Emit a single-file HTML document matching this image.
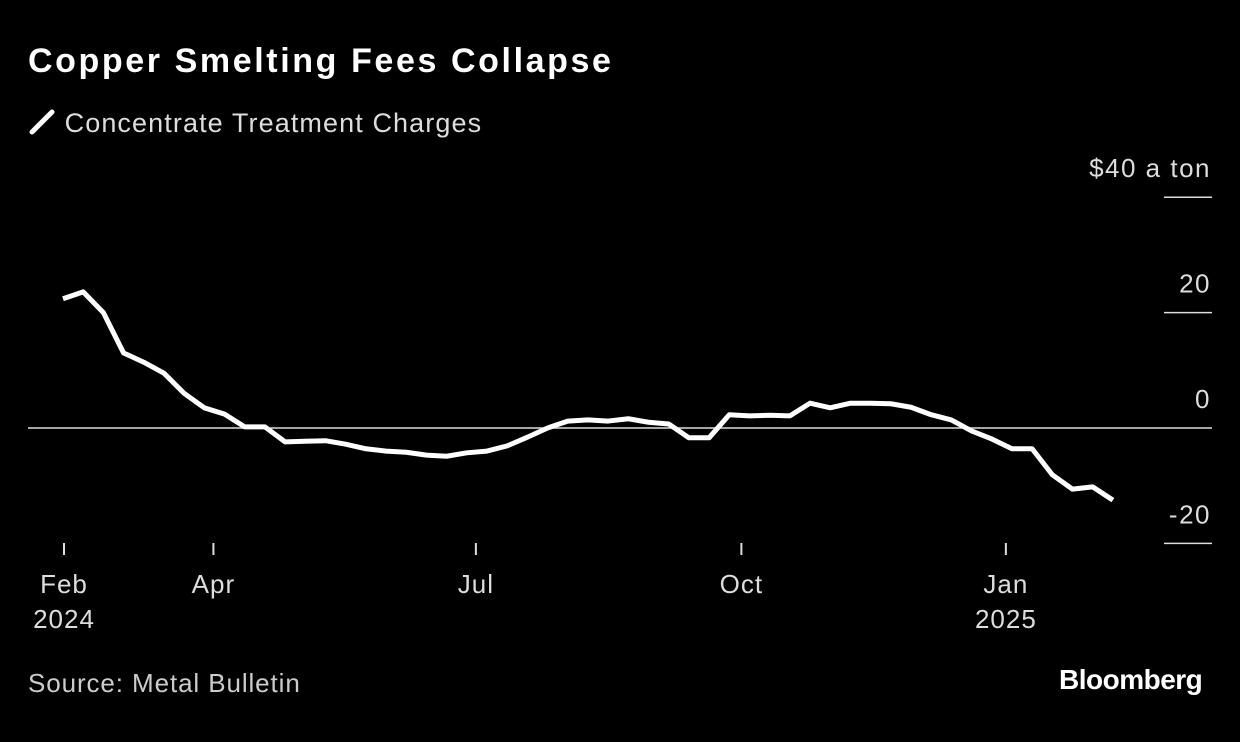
<!DOCTYPE html>
<html><head><meta charset="utf-8">
<style>
html,body{margin:0;padding:0;background:#000;}
body{width:1240px;height:742px;overflow:hidden;position:relative;font-family:"Liberation Sans",sans-serif;color:#fff;}
.t{position:absolute;white-space:nowrap;}
</style></head>
<body>
<div class="t" style="left:28px;top:42px;font-size:34px;font-weight:bold;letter-spacing:2.6px;">Copper Smelting Fees Collapse</div>
<div class="t" style="left:28px;top:108px;font-size:27px;color:#ddd;letter-spacing:1.1px;">
 <svg width="28" height="28" style="vertical-align:-4px"><line x1="4" y1="24" x2="24" y2="4" stroke="#fff" stroke-width="5" stroke-linecap="round"/></svg>
 Concentrate Treatment Charges</div>
<svg id="chart" width="1240" height="742" style="position:absolute;left:0;top:0"></svg>
<div class="t" style="left:28px;top:668px;font-size:26px;color:#ccc;letter-spacing:0.9px;">Source: Metal Bulletin</div>
<div class="t" style="left:1059px;top:664px;font-size:28px;font-weight:bold;letter-spacing:-0.5px;">Bloomberg</div>
<script>
const values=[22.4,23.6,20,13,11.4,9.5,6,3.5,2.4,0.2,0.2,-2.4,-2.3,-2.2,-2.8,-3.6,-4,-4.2,-4.7,-4.9,-4.3,-4,-3.1,-1.6,0,1.2,1.4,1.2,1.6,1,0.7,-1.7,-1.7,2.3,2.1,2.2,2.1,4.3,3.5,4.3,4.3,4.2,3.6,2.3,1.4,-0.5,-1.9,-3.6,-3.6,-8.1,-10.6,-10.2,-12.5];
const yTicks=[40,20,0,-20];
const yTickLabels=["$40 a ton","20","0","-20"];
const xTickIdx=[0.05,7.45,20.45,33.6,46.7];
const xTickLabels=[["Feb","2024"],["Apr"],["Jul"],["Oct"],["Jan","2025"]];
const svg=document.getElementById('chart');
const NS='http://www.w3.org/2000/svg';
const x=i=>63+i*20.19;
const y=v=>428-v*5.77;
function mk(tag,attrs){const e=document.createElementNS(NS,tag);for(const k in attrs)e.setAttribute(k,attrs[k]);svg.appendChild(e);return e;}
yTicks.forEach((v,i)=>{
  const ln=mk('line',{x1:v===0?28:1164,x2:1212,y1:y(v),y2:y(v),stroke:'#ddd','stroke-width':1.5});
  
  
  const t=mk('text',{x:1211,y:y(v)-20,'text-anchor':'end',fill:'#ddd','font-size':26,'letter-spacing':1.5,'font-family':'Liberation Sans, sans-serif'});
  t.textContent=yTickLabels[i];
  
  
});
xTickIdx.forEach((ti,i)=>{
  const xx=x(ti);
  const tk=mk('line',{x1:xx,x2:xx,y1:543,y2:555,stroke:'#ddd','stroke-width':2});
  
  
  xTickLabels[i].forEach((s,j)=>{
    const t=mk('text',{x:xx,y:593+j*35,'text-anchor':'middle',fill:'#ddd','font-size':26,'letter-spacing':1,'font-family':'Liberation Sans, sans-serif'});
    t.textContent=s;
    
    
  });
});
const p=mk('polyline',{points:values.map((v,i)=>x(i)+','+y(v)).join(' '),fill:'none',stroke:'#fff','stroke-width':5,'stroke-linejoin':'round'});


</script>
</body></html>
